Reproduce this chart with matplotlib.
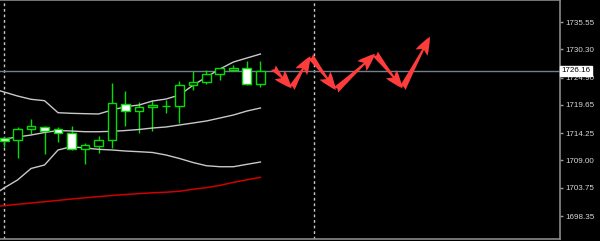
import numpy as np
import matplotlib.pyplot as plt
from matplotlib.patches import FancyArrowPatch

# ---------------------------------------------------------
# bars (index 0 = first bar after the left period separator)
# ---------------------------------------------------------
opens = [1713.36, 1712.87, 1714.97, 1715.47, 1714.97, 1714.21, 1711.20, 1711.83, 1712.87, 1719.83,
         1718.48, 1719.19, 1719.44, 1719.50, 1723.40, 1723.99, 1725.52, 1726.40, 1726.79, 1723.72]
highs = [1713.50, 1715.42, 1716.89, 1715.66, 1715.47, 1715.61, 1712.29, 1713.69, 1723.80, 1722.32,
         1720.27, 1720.59, 1720.59, 1724.29, 1726.21, 1726.35, 1726.67, 1727.30, 1728.07, 1728.13]
lows = [1711.58, 1709.53, 1714.02, 1710.24, 1712.54, 1711.10, 1708.26, 1710.49, 1711.33, 1715.61,
        1714.32, 1714.65, 1718.04, 1716.24, 1722.51, 1723.60, 1724.43, 1726.40, 1723.47, 1723.14]
closes = [1712.79, 1715.03, 1715.55, 1714.65, 1714.21, 1711.14, 1711.96, 1712.92, 1719.96, 1718.54,
          1719.31, 1719.63, 1719.44, 1723.47, 1724.10, 1725.52, 1726.67, 1726.79, 1723.72, 1726.16]

# indicators, starting one bar before the first visible bar
band_upper = [1722.89, 1722.13, 1721.36, 1720.73, 1720.46, 1718.16, 1718.04, 1717.97, 1717.91, 1718.68,
              1719.31, 1719.63, 1720.40, 1720.78, 1721.55, 1723.41, 1725.00, 1726.54, 1727.88, 1728.65, 1729.41]
band_mid = [1712.73, 1713.11, 1713.50, 1713.88, 1714.36, 1714.74, 1714.65, 1714.51, 1714.51, 1714.59,
            1714.74, 1714.94, 1715.22, 1715.42, 1715.80, 1716.18, 1716.57, 1717.14, 1717.72, 1718.48, 1719.06]
band_lower = [1701.99, 1703.72, 1705.26, 1707.46, 1708.13, 1711.01, 1711.64, 1711.39, 1711.14, 1711.01,
              1710.81, 1710.68, 1710.53, 1710.05, 1709.38, 1708.61, 1707.99, 1707.80, 1707.80, 1708.26, 1708.70]
ma_red = [1700.08, 1700.34, 1700.59, 1700.84, 1701.09, 1701.34, 1701.61, 1701.84, 1702.07, 1702.28,
          1702.47, 1702.64, 1702.80, 1702.91, 1703.10, 1703.47, 1703.79, 1704.22, 1704.81, 1705.29, 1705.77]

# forecast zigzag (bar position, price)
zz_bar = [19.95, 21.31, 22.70, 24.59, 27.50, 29.53, 31.56]
zz_price = [1726.79, 1722.84, 1729.00, 1722.51, 1729.45, 1722.84, 1732.73]

separators = [0, 23]
last_price = 1726.16
price_ticks = [1735.55, 1730.30, 1724.90, 1719.65, 1714.25, 1709.00, 1703.75, 1698.35]

# ---------------------------------------------------------
# plot
# ---------------------------------------------------------
green = "#00e000"
fig = plt.figure(figsize=(6.0, 2.41), dpi=100, facecolor="black")
ax = fig.add_axes([0.0, 2 / 241, 560 / 600, 239 / 241])
ax.set_facecolor("black")

x = np.arange(len(opens))
o = np.array(opens)
c = np.array(closes)

ax.vlines(x, lows, highs, color=green, lw=1, zorder=2)
body_bottom = np.minimum(o, c)
body_height = np.abs(c - o)
face = ["white" if cl < op else "black" for op, cl in zip(opens, closes)]
ax.bar(x, body_height, bottom=body_bottom, width=0.66, color=face,
       edgecolor=green, linewidth=1, zorder=3)

xi = np.arange(-1, len(band_upper) - 1)
for band in (band_upper, band_mid, band_lower):
    ax.plot(xi, band, color="#c8c8c8", lw=1, zorder=2)
ax.plot(xi, ma_red, color="#d00000", lw=1.1, zorder=2)

for s in separators:
    ax.axvline(s, color="#c8c8c8", lw=1, ls=(0, (2, 2)), zorder=1)
ax.axhline(last_price, color="#71808f", lw=1, zorder=1)

for i in range(len(zz_bar) - 1):
    arr = FancyArrowPatch((zz_bar[i], zz_price[i]), (zz_bar[i + 1], zz_price[i + 1]),
                          arrowstyle="fancy,head_length=1.0,head_width=0.75,tail_width=0.38",
                          mutation_scale=13, shrinkA=0, shrinkB=0,
                          color="#ff3c3c", lw=0, zorder=4)
    ax.add_patch(arr)

ax.set_xlim(-0.3, 41.2)
ax.set_ylim(1693.94, 1739.77)

ax.yaxis.tick_right()
ax.set_yticks(price_ticks)
ax.set_yticklabels([f"{v:.2f}" for v in price_ticks])
ax.tick_params(axis="y", colors="#9a9a9a", labelcolor="#d8d8d8", length=2, width=1,
               pad=2, labelsize=5.8)
for lab in ax.get_yticklabels():
    lab.set_fontfamily("Liberation Sans")
ax.set_xticks([])

for side in ("top", "bottom", "right"):
    ax.spines[side].set_color("#8a8a8a")
    ax.spines[side].set_linewidth(1.2)
ax.spines["left"].set_visible(False)

ax.text(1.003, last_price, f"{last_price:.2f}", transform=ax.get_yaxis_transform(),
        ha="left", va="center", fontsize=5.8, family="Liberation Sans", color="black",
        bbox=dict(boxstyle="square,pad=0.15", fc="white", ec="white"), zorder=10, clip_on=False)

fig.savefig("out.png", dpi=100, facecolor="black")
